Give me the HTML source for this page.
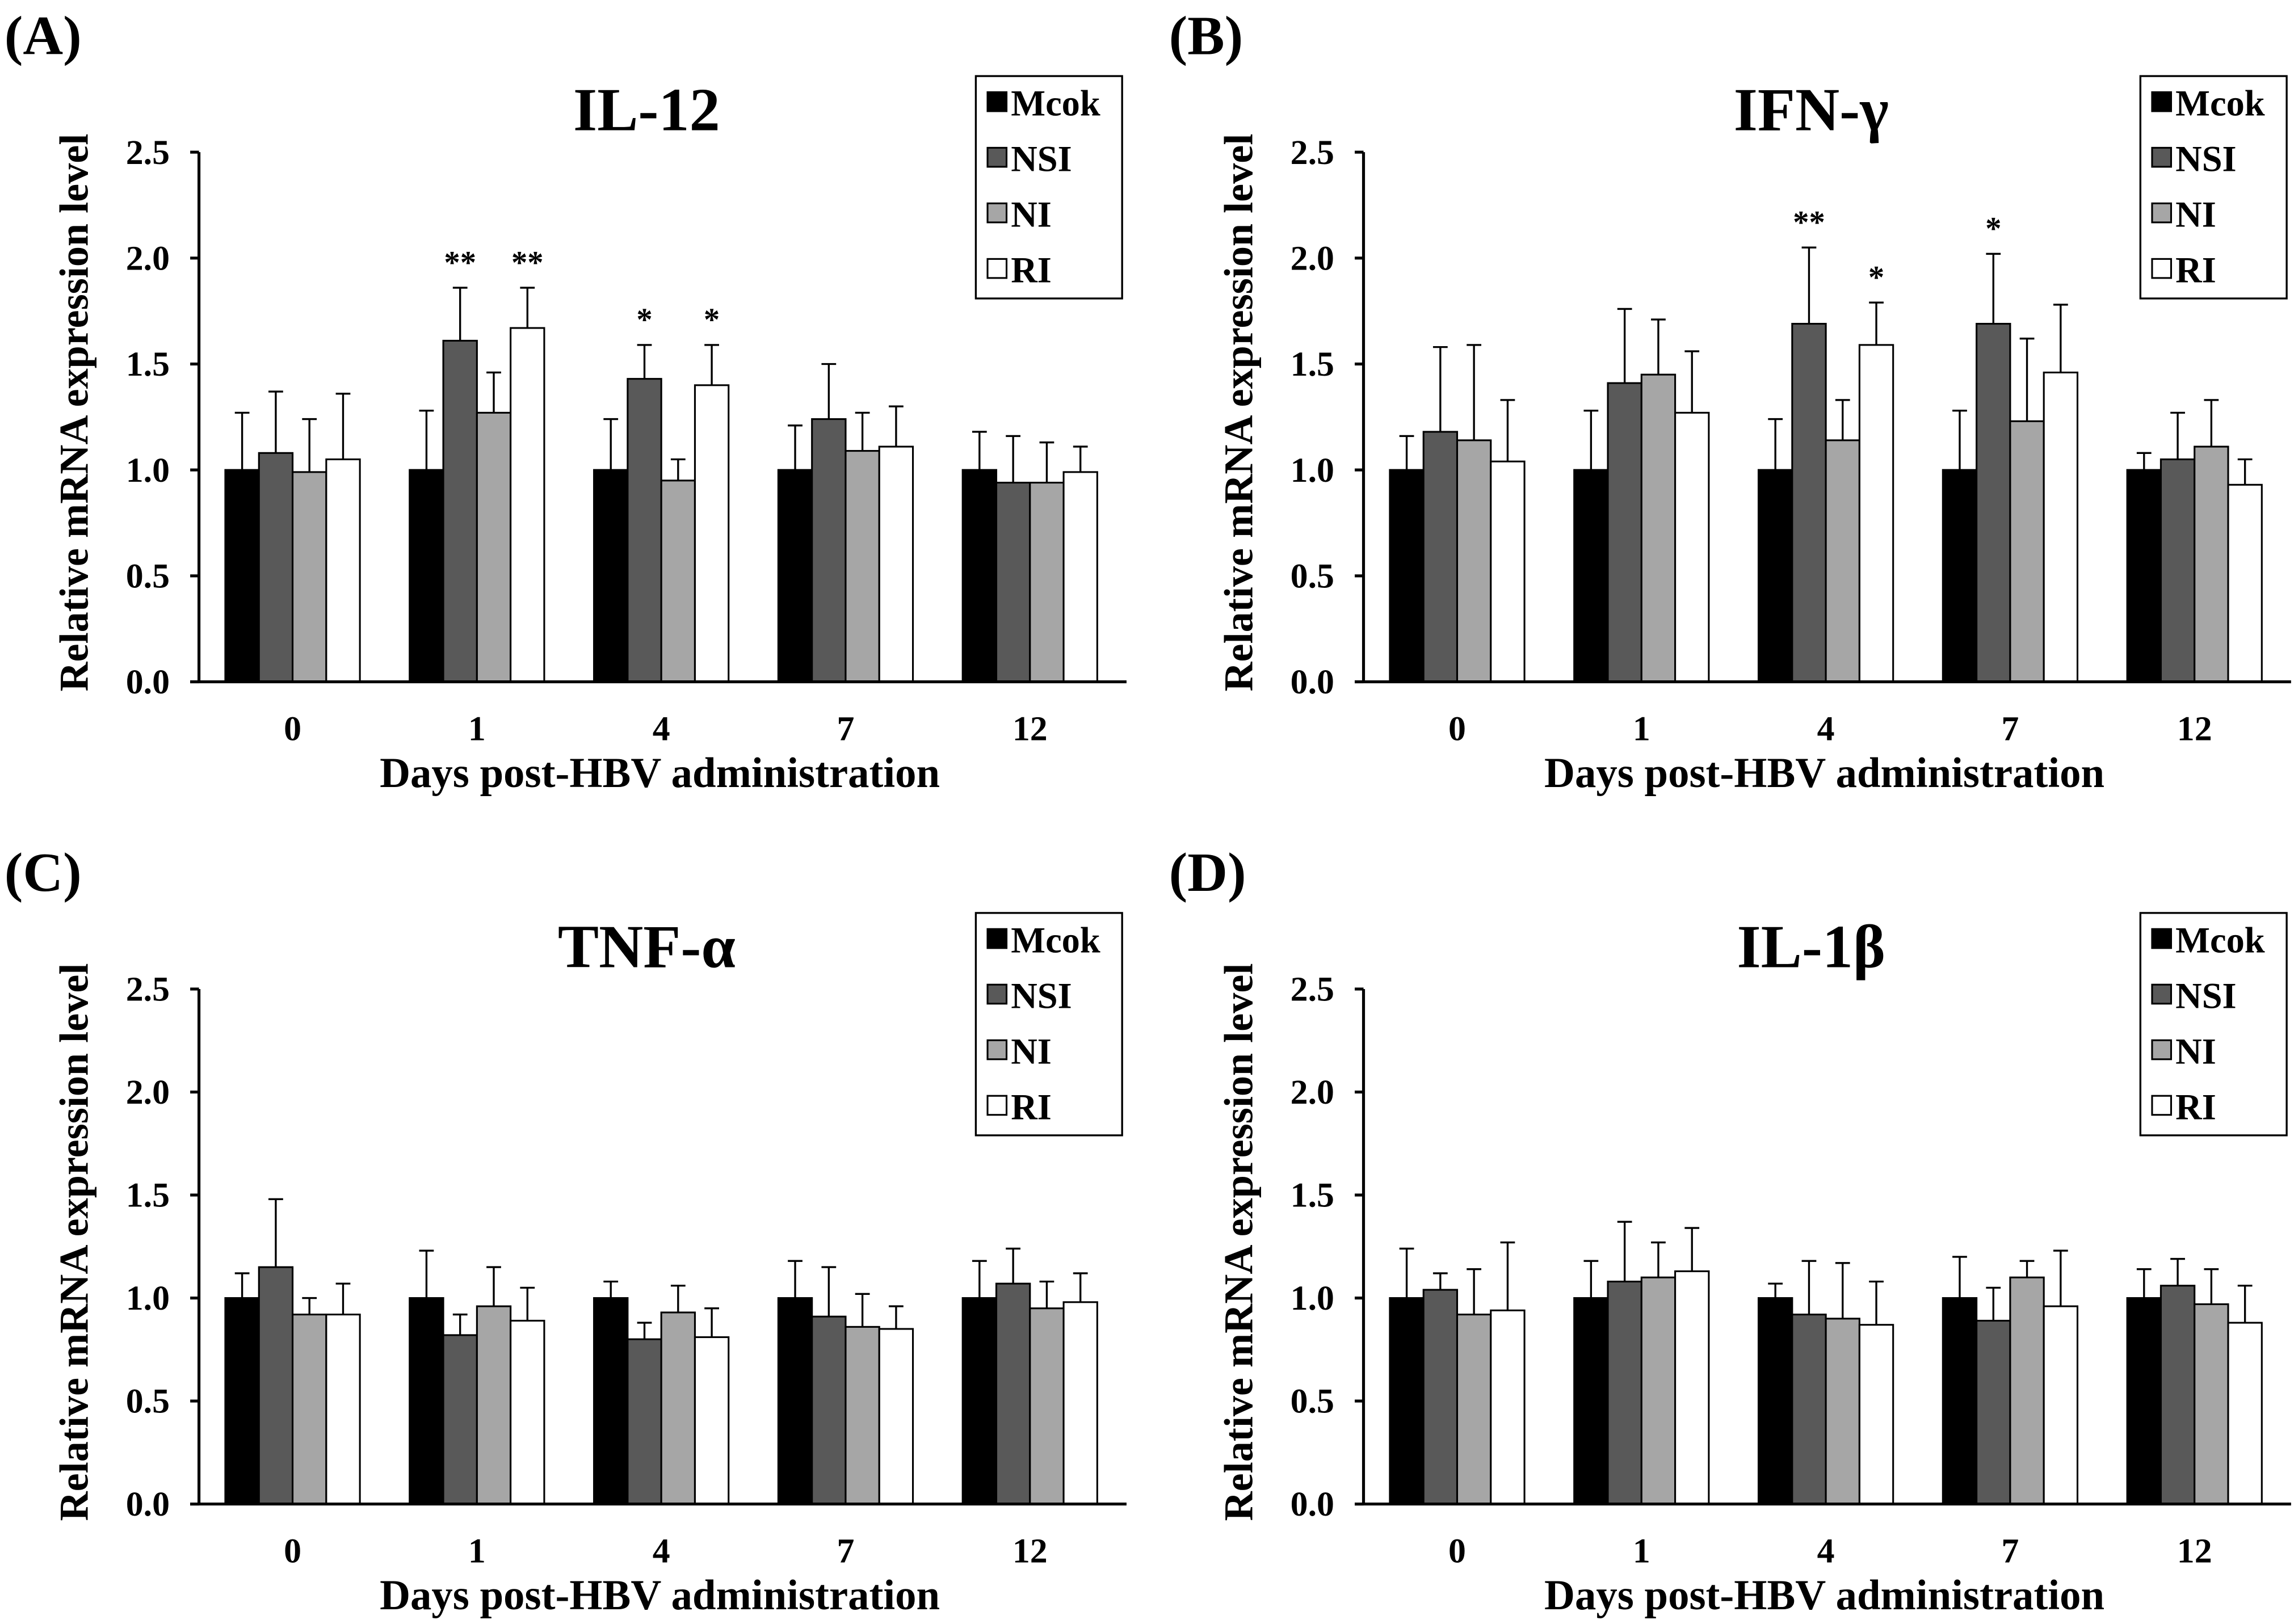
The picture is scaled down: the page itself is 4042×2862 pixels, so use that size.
<!DOCTYPE html>
<html><head><meta charset="utf-8"><style>
html,body{margin:0;padding:0;background:#fff;}
svg{display:block;}
text{font-family:"Liberation Serif",serif;font-weight:bold;fill:#000;}
</style></head><body>
<svg id="fig" width="4042" height="2862" viewBox="0 0 1568 1110" preserveAspectRatio="none" xmlns="http://www.w3.org/2000/svg"></svg>
<script>
const categories = ["0","1","4","7","12"];
const seriesNames = ["Mcok","NSI","NI","RI"];
const yTicks = [0,0.5,1.0,1.5,2.0,2.5];
const ilMeans = [[1.00,1.08,0.99,1.05],[1.00,1.61,1.27,1.67],[1.00,1.43,0.95,1.40],[1.00,1.24,1.09,1.11],[1.00,0.94,0.94,0.99]];
const ilErr = [[0.27,0.29,0.25,0.31],[0.28,0.25,0.19,0.19],[0.24,0.16,0.10,0.19],[0.21,0.26,0.18,0.19],[0.18,0.22,0.19,0.12]];
const ilStars = [["","","",""],["","**","","**"],["","*","","*"],["","","",""],["","","",""]];
const ifnMeans = [[1.00,1.18,1.14,1.04],[1.00,1.41,1.45,1.27],[1.00,1.69,1.14,1.59],[1.00,1.69,1.23,1.46],[1.00,1.05,1.11,0.93]];
const ifnErr = [[0.16,0.40,0.45,0.29],[0.28,0.35,0.26,0.29],[0.24,0.36,0.19,0.20],[0.28,0.33,0.39,0.32],[0.08,0.22,0.22,0.12]];
const ifnStars = [["","","",""],["","","",""],["","**","","*"],["","*","",""],["","","",""]];
const tnfMeans = [[1.00,1.15,0.92,0.92],[1.00,0.82,0.96,0.89],[1.00,0.80,0.93,0.81],[1.00,0.91,0.86,0.85],[1.00,1.07,0.95,0.98]];
const tnfErr = [[0.12,0.33,0.08,0.15],[0.23,0.10,0.19,0.16],[0.08,0.08,0.13,0.14],[0.18,0.24,0.16,0.11],[0.18,0.17,0.13,0.14]];
const il1Means = [[1.00,1.04,0.92,0.94],[1.00,1.08,1.10,1.13],[1.00,0.92,0.90,0.87],[1.00,0.89,1.10,0.96],[1.00,1.06,0.97,0.88]];
const il1Err = [[0.24,0.08,0.22,0.33],[0.18,0.29,0.17,0.21],[0.07,0.26,0.27,0.21],[0.20,0.16,0.08,0.27],[0.14,0.13,0.17,0.18]];
const noStars = [["","","",""],["","","",""],["","","",""],["","","",""],["","","",""]];

const fills = ["#000000","#595959","#a6a6a6","#ffffff"];
const NS = "http://www.w3.org/2000/svg";
const svg = document.getElementById('fig');
function mk(tag, attrs, parent){const e=document.createElementNS(NS,tag);for(const k in attrs)e.setAttribute(k,attrs[k]);(parent||svg).appendChild(e);return e;}

function panel(cfg){
  const g = mk('g',{});
  
  
  const x0=cfg.ax, y0=cfg.y0, ytop=cfg.ytop, xEnd=cfg.ax+634;
  const yS = v => y0 - (v/2.5)*(y0-ytop);
  const xC = i => cfg.ax + 64 + i*126;
  const lab = mk('text',{x:cfg.ax-133,y:cfg.ytop-67,'font-size':38},g); lab.textContent=cfg.label;
  
  
  const t = mk('text',{x:cfg.ax+306,y:cfg.ytop-15,'font-size':42,'text-anchor':'middle'},g); t.textContent=cfg.title;
  
  
  cfg.means.forEach((grp,i)=>{
    grp.forEach((v,s)=>{
      const bx = xC(i)-46+s*23;
      const top = yS(v), et = yS(v+cfg.err[i][s]);
      const ln = mk('line',{x1:bx+11.5,x2:bx+11.5,y1:top,y2:et,stroke:'#000','stroke-width':1.3},g);
      
      
      mk('line',{x1:bx+6.5,x2:bx+16.5,y1:et,y2:et,stroke:'#000','stroke-width':1.3},g);
      const r = mk('rect',{x:bx,y:top,width:23,height:y0-top,fill:fills[s],stroke:'#000','stroke-width':1.2},g);
      
      
      const st = cfg.stars[i][s];
      if(st){const tx=mk('text',{x:bx+11.5,y:et-10,'font-size':22,'text-anchor':'middle','font-weight':'normal'},g);tx.textContent=st;
        
        }
    });
    const xl = mk('text',{x:xC(i),y:y0+40,'font-size':24,'text-anchor':'middle'},g); xl.textContent=categories[i];
    
    
  });
  const ya = mk('line',{x1:x0,x2:x0,y1:ytop,y2:y0,stroke:'#000','stroke-width':2},g);
  
  
  const xa = mk('line',{x1:x0-6,x2:xEnd,y1:y0,y2:y0,stroke:'#000','stroke-width':2},g);
  
  
  yTicks.forEach(v=>{
    mk('line',{x1:x0-6,x2:x0,y1:yS(v),y2:yS(v),stroke:'#000','stroke-width':2},g);
    const tl = mk('text',{x:x0-20,y:yS(v)+8,'font-size':24,'text-anchor':'end'},g); tl.textContent=v.toFixed(1);
    
    
  });
  const yt = mk('text',{x:0,y:0,'font-size':28,'text-anchor':'middle',transform:`translate(${x0-76},${(ytop+y0)/2-3}) rotate(-90)`},g);
  yt.textContent='Relative mRNA expression level';
  
  
  const xt = mk('text',{x:x0+315,y:y0+72,'font-size':29,'text-anchor':'middle'},g);
  xt.textContent='Days post-HBV administration';
  
  
  const lx=cfg.ax+531, ly=cfg.ytop-52;
  const lg = mk('g',{},g);
  
  
  mk('rect',{x:lx,y:ly,width:100,height:152,fill:'#fff',stroke:'#000','stroke-width':1.3},lg);
  seriesNames.forEach((n,s)=>{
    const e = mk('g',{},lg);
    
    
    mk('rect',{x:lx+8,y:ly+11+s*38,width:13,height:13,fill:fills[s],stroke:'#000','stroke-width':1.2},e);
    const tx = mk('text',{x:lx+24,y:ly+27+s*38,'font-size':25},e); tx.textContent=n;
  });
}
panel({id:'il-12',label:'(A)',title:'IL-12',ax:136,ytop:104,y0:466,means:ilMeans,err:ilErr,stars:ilStars});
panel({id:'ifn-gamma',label:'(B)',title:'IFN-γ',ax:932,ytop:104,y0:466,means:ifnMeans,err:ifnErr,stars:ifnStars});
panel({id:'tnf-alpha',label:'(C)',title:'TNF-α',ax:136,ytop:676,y0:1028,means:tnfMeans,err:tnfErr,stars:noStars});
panel({id:'il-1beta',label:'(D)',title:'IL-1β',ax:932,ytop:676,y0:1028,means:il1Means,err:il1Err,stars:noStars});
</script>
</body></html>
